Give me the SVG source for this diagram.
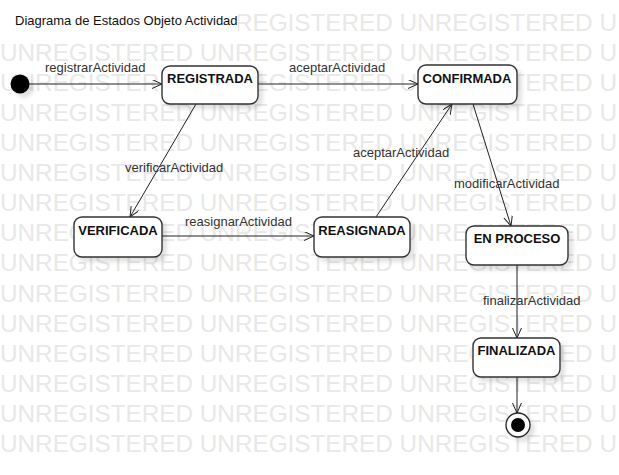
<svg xmlns="http://www.w3.org/2000/svg" width="619" height="475" viewBox="0 0 619 475">
<style>
.wm{font-family:"Liberation Sans",Arial,sans-serif;font-size:24.3px;fill:#e8e8e8}
.box{fill:#fff;stroke:#333;stroke-width:1.4}
.name{font-family:"Liberation Sans",Arial,sans-serif;font-size:13px;font-weight:bold;fill:#111;text-anchor:middle}
.lbl{font-family:"Liberation Sans",Arial,sans-serif;font-size:13px;fill:#333}
.edge{fill:none;stroke:#222;stroke-width:1;marker-end:url(#arr)}
</style>
<defs>
<marker id="arr" markerUnits="userSpaceOnUse" markerWidth="12" markerHeight="10" refX="10" refY="4.5" orient="auto">
<path d="M0,0 L10,4.5 L0,9" fill="none" stroke="#222" stroke-width="1"/>
</marker>
<filter id="sh" x="-20%" y="-20%" width="150%" height="160%">
<feDropShadow dx="4" dy="4" stdDeviation="2" flood-color="#000" flood-opacity="0.12"/>
</filter>
</defs>
<rect width="619" height="475" fill="#fff"/>
<g id="watermark">
<text class="wm" x="0" y="30.6">UNREGISTERED UNREGISTERED UNREGISTERED U</text>
<text class="wm" x="0" y="60.7">UNREGISTERED UNREGISTERED UNREGISTERED U</text>
<text class="wm" x="0" y="90.8">UNREGISTERED UNREGISTERED UNREGISTERED U</text>
<text class="wm" x="0" y="120.9">UNREGISTERED UNREGISTERED UNREGISTERED U</text>
<text class="wm" x="0" y="151">UNREGISTERED UNREGISTERED UNREGISTERED U</text>
<text class="wm" x="0" y="181.1">UNREGISTERED UNREGISTERED UNREGISTERED U</text>
<text class="wm" x="0" y="211.2">UNREGISTERED UNREGISTERED UNREGISTERED U</text>
<text class="wm" x="0" y="241.3">UNREGISTERED UNREGISTERED UNREGISTERED U</text>
<text class="wm" x="0" y="271.4">UNREGISTERED UNREGISTERED UNREGISTERED U</text>
<text class="wm" x="0" y="301.5">UNREGISTERED UNREGISTERED UNREGISTERED U</text>
<text class="wm" x="0" y="331.6">UNREGISTERED UNREGISTERED UNREGISTERED U</text>
<text class="wm" x="0" y="361.7">UNREGISTERED UNREGISTERED UNREGISTERED U</text>
<text class="wm" x="0" y="391.8">UNREGISTERED UNREGISTERED UNREGISTERED U</text>
<text class="wm" x="0" y="421.9">UNREGISTERED UNREGISTERED UNREGISTERED U</text>
<text class="wm" x="0" y="452">UNREGISTERED UNREGISTERED UNREGISTERED U</text>
</g>
<g id="title">
<rect x="0" y="8" width="238" height="28" fill="#fff"/>
<text class="lbl" x="15" y="25" style="fill:#111">Diagrama de Estados Objeto Actividad</text>
</g>
<g id="connectors">
<line class="edge" x1="29" y1="84" x2="162" y2="84"/>
<line class="edge" x1="258" y1="84" x2="418" y2="84"/>
<line class="edge" x1="196" y1="104" x2="130" y2="217"/>
<line class="edge" x1="162" y1="236" x2="314" y2="236"/>
<line class="edge" x1="376" y1="217" x2="452" y2="104"/>
<line class="edge" x1="473" y1="104" x2="511" y2="226"/>
<line class="edge" x1="517" y1="265" x2="517" y2="338"/>
<line class="edge" x1="517" y1="377" x2="517" y2="413"/>
<text class="lbl" x="45" y="72">registrarActividad</text>
<text class="lbl" x="289" y="72">aceptarActividad</text>
<text class="lbl" x="125" y="172">verificarActividad</text>
<text class="lbl" x="185" y="226">reasignarActividad</text>
<text class="lbl" x="353" y="157">aceptarActividad</text>
<text class="lbl" x="454" y="188">modificarActividad</text>
<text class="lbl" x="483" y="305">finalizarActividad</text>
</g>
<g id="initial" filter="url(#sh)">
<circle cx="20" cy="84" r="9.5" fill="#000"/>
</g>
<g id="registrada">
<rect class="box" x="162" y="66" width="96" height="38" rx="8" filter="url(#sh)"/>
<text class="name" x="210" y="83">REGISTRADA</text>
</g>
<g id="confirmada">
<rect class="box" x="418" y="65" width="99" height="39" rx="8" filter="url(#sh)"/>
<text class="name" x="467" y="83">CONFIRMADA</text>
</g>
<g id="verificada">
<rect class="box" x="74" y="217" width="88" height="40" rx="8" filter="url(#sh)"/>
<text class="name" x="118" y="235">VERIFICADA</text>
</g>
<g id="reasignada">
<rect class="box" x="314" y="217" width="96" height="40" rx="8" filter="url(#sh)"/>
<text class="name" x="362" y="235">REASIGNADA</text>
</g>
<g id="en-proceso">
<rect class="box" x="466" y="226" width="102" height="39" rx="8" filter="url(#sh)"/>
<text class="name" x="517" y="243">EN PROCESO</text>
</g>
<g id="finalizada">
<rect class="box" x="473" y="338" width="87" height="39" rx="8" filter="url(#sh)"/>
<text class="name" x="516.5" y="355">FINALIZADA</text>
</g>
<g id="final" filter="url(#sh)">
<circle cx="518" cy="425" r="12" fill="#fff" stroke="#222" stroke-width="1.3"/>
<circle cx="518" cy="425" r="7" fill="#000"/>
</g>
</svg>
